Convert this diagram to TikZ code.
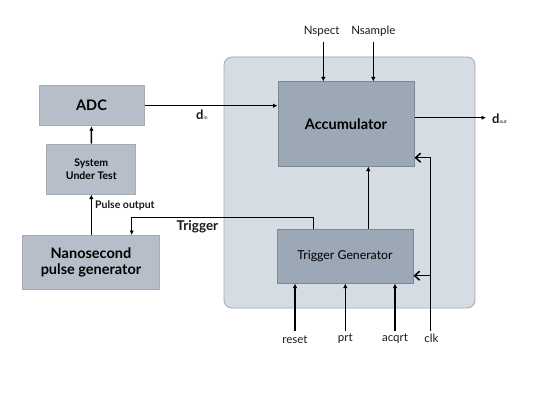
\documentclass[tikz,border=0pt]{standalone}
\usepackage{fontspec}
\setmainfont{Lato}
\usetikzlibrary{arrows.meta}
\definecolor{panelfill}{HTML}{D5DCE4}
\definecolor{paneldraw}{HTML}{A2A8AE}
\definecolor{innerfill}{HTML}{9CA8B6}
\definecolor{innerdraw}{HTML}{7E8893}
\definecolor{outerfill}{HTML}{B6BFC9}
\definecolor{outerdraw}{HTML}{A3ABB4}
\tikzset{
  innerbox/.style={draw=innerdraw,fill=innerfill,line width=1pt,inner sep=0pt,align=center},
  outerbox/.style={draw=outerdraw,fill=outerfill,line width=1pt,inner sep=0pt,align=center},
  wire/.style={line width=1.5pt,-{Latex[length=4.5pt,width=4.5pt]}},
  clkwire/.style={line width=1.5pt,-{Straight Barb[length=5pt,width=9pt]}},
  lbl/.style={inner sep=0pt,text=black!90}
}
\begin{document}
\begin{tikzpicture}[x=1pt,y=-1pt]
  \useasboundingbox (0,0) rectangle (545,409);
  % panel
  \filldraw[draw=paneldraw,fill=panelfill,line width=0.8pt,rounded corners=8pt]
    (224,57) rectangle (475,308);
  % blocks
  \node[innerbox,minimum width=136pt,minimum height=84pt,
        font=\fontsize{14.5}{16}\selectfont\bfseries] (acc) at (346,124) {Accumulator};
  \node[innerbox,minimum width=136pt,minimum height=54pt,
        font=\fontsize{12.3}{14}\selectfont] (trig) at (345,256) {Trigger Generator};
  \node[outerbox,minimum width=105pt,minimum height=40pt,
        font=\fontsize{14.5}{16}\selectfont\bfseries] (adc) at (91.5,105.7) {ADC};
  \node[outerbox,minimum width=89pt,minimum height=50pt,
        font=\fontsize{10.5}{12.5}\selectfont\bfseries] (sut) at (91.3,169) {System\\Under Test};
  \node[outerbox,minimum width=137pt,minimum height=54pt,
        font=\fontsize{14.5}{16.5}\selectfont\bfseries] (nano) at (91,262.5) {Nanosecond\\pulse generator};
  % free ends
  \coordinate (nspect) at (323.3,41.7);
  \coordinate (nsample) at (373.3,41.7);
  \coordinate (dout) at (486,117.7);
  \coordinate (reset) at (295,331);
  \coordinate (prt) at (345.3,331);
  \coordinate (acqrt) at (395,331);
  \coordinate (clk) at (430.7,331);
  \coordinate (trigbend) at (131.7,217.3);
  % connectors
  \draw[wire] (adc.east) -- (adc.east -| acc.west);
  \draw[wire] (sut.north) -- (adc.south);
  \draw[wire] (nano.north -| sut.south) -- (sut.south);
  \draw[wire] (nspect) -- (nspect |- acc.north);
  \draw[wire] (nsample) -- (nsample |- acc.north);
  \draw[wire] (acc.east |- dout) -- (dout);
  \draw[wire] (trig.north -| 368.3,0) -- (acc.south -| 368.3,0);
  \draw[wire] (trig.north -| 313.3,0) |- (trigbend) -- (trigbend |- nano.north);
  \draw[wire] (reset) -- (reset |- trig.south);
  \draw[wire] (prt) -- (prt |- trig.south);
  \draw[wire] (acqrt) -- (acqrt |- trig.south);
  \draw[clkwire] (clk) |- (acc.east |- 0,157.7);
  \draw[clkwire] (clk |- 0,275.7) -- (trig.east |- 0,275.7);
  % labels
  \node[lbl,font=\fontsize{11.5}{13}\selectfont] (lnspect) at (321.7,31.7) {Nspect};
  \node[lbl,font=\fontsize{11.5}{13}\selectfont] (lnsample) at (373.3,31.7) {Nsample};
  \node[lbl,anchor=west] (ldin) at (196,114.5) {\fontsize{13}{14}\selectfont\bfseries d\fontsize{5}{6}\selectfont\mdseries in};
  \node[lbl,anchor=west] (ldout) at (492,118.5) {\fontsize{13}{14}\selectfont\bfseries d\fontsize{5}{6}\selectfont\mdseries out};
  \node[lbl,anchor=west,font=\fontsize{10.5}{12}\selectfont\bfseries] (lpulse) at (95,205.7) {Pulse output};
  \node[lbl,anchor=west,font=\fontsize{13.5}{15}\selectfont\bfseries] (ltrig) at (176.5,226.7) {Trigger};
  \node[lbl,font=\fontsize{11.5}{13}\selectfont] (lreset) at (295,340) {reset};
  \node[lbl,font=\fontsize{11.5}{13}\selectfont] (lprt) at (345.3,339) {prt};
  \node[lbl,font=\fontsize{11.5}{13}\selectfont] (lacqrt) at (395,338.5) {acqrt};
  \node[lbl,font=\fontsize{11.5}{13}\selectfont] (lclk) at (431.5,338.5) {clk};
\end{tikzpicture}
\end{document}
